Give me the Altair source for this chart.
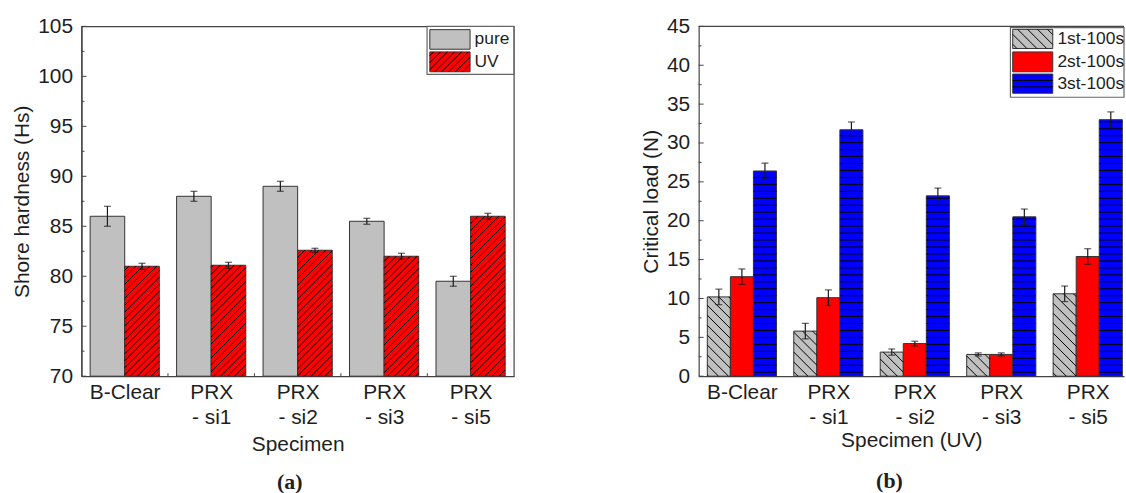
import json
import math
import pandas as pd
import altair as alt

# ---------------- data ----------------
specimens = ["B-Clear", "PRX - si1", "PRX - si2", "PRX - si3", "PRX - si5"]

hard_series = ["pure", "UV"]
hard_pure = [86.0, 88.0, 89.0, 85.5, 79.5]
hard_pure_err = [1.0, 0.5, 0.5, 0.3, 0.5]
hard_uv = [81.0, 81.1, 82.6, 82.0, 86.0]
hard_uv_err = [0.3, 0.3, 0.2, 0.3, 0.3]

load_series = ["1st-100s", "2st-100s", "3st-100s"]
load_1st = [10.2, 5.8, 3.1, 2.8, 10.6]
load_1st_err = [1.0, 1.0, 0.4, 0.2, 1.0]
load_2nd = [12.8, 10.1, 4.2, 2.8, 15.4]
load_2nd_err = [1.0, 1.0, 0.3, 0.2, 1.0]
load_3rd = [26.4, 31.7, 23.2, 20.5, 33.0]
load_3rd_err = [1.0, 1.0, 1.0, 1.0, 1.0]

# ---------------- layout / style ----------------
FONT = "Liberation Sans"
STEP = 87.0          # px per category
H = 352.0            # plot height
WA = 5 * STEP        # panel a plot width
WB = 428.0           # panel b plot width (cropped at window edge)
XMIN = -0.5
YA = (70.0, 105.0)
YB = (0.0, 45.0)
FRAME = "#444444"
TXT = "#1e1e1e"

label_lines = [[s] if " - " not in s else [s.split(" - ")[0], "- " + s.split(" - ")[1]] for s in specimens]
label_expr = json.dumps(label_lines) + "[datum.value]"


def hatch_segments(X0, X1, Y0, Y1, kind, sp, phase=0.0):
    segs = []
    if kind == "-":
        k = math.ceil((Y0 - phase) / sp)
        c = phase + k * sp
        while c < Y1 - 0.8:
            if c > Y0 + 0.8:
                segs.append((X0, c, X1, c))
            c += sp
    elif kind == "/":
        c = math.floor((X0 - Y1) / sp) * sp
        while c <= X1 - Y0:
            tmin, tmax = max(Y0, X0 - c), min(Y1, X1 - c)
            if tmax - tmin > 0.7:
                segs.append((tmin + c, tmin, tmax + c, tmax))
            c += sp
    elif kind == "\\":
        c = math.floor((X0 + Y0) / sp) * sp
        while c <= X1 + Y1:
            tmin, tmax = max(Y0, c - X1), min(Y1, c - X0)
            if tmax - tmin > 0.7:
                segs.append((c - tmin, tmin, c - tmax, tmax))
            c += sp
    return segs


def panel(series, values, errs, fills, hatches, slots, ydom, width, ytitle, xtitle, xtitle_pad,
          legend_box, legend_rows, legend_sym_x, legend_text_x, caption, cap_dx, cap_off, frame_view):
    ymin, ymax = ydom
    sy = H / (ymax - ymin)

    def to_data_x(px):
        return XMIN + px / STEP

    def to_data_y_up(py):
        return ymin + py / sy

    def to_data_y_down(py):
        return ymax - py / sy

    xscale = alt.Scale(domain=[XMIN, XMIN + width / STEP], nice=False, zero=False)
    yscale = alt.Scale(domain=[ymin, ymax], nice=False, zero=False)
    xaxis = alt.Axis(values=[0, 1, 2, 3, 4], labelExpr=label_expr, labelLineHeight=26,
                     labelPadding=5, titlePadding=xtitle_pad, labelOverlap=False,
                     labelFlush=False, labelBound=False)
    yaxis = alt.Axis(values=list(range(int(ymin), int(ymax) + 1, 5)), format="d",
                     labelPadding=9, titlePadding=5, labelFlush=False,
                     labelOverlap=False, labelBound=False)

    def X(f):
        return alt.X(f, scale=xscale, title=xtitle, axis=xaxis)

    def Y(f):
        return alt.Y(f, scale=yscale, title=ytitle, axis=yaxis)

    bars, errs_rows, hatch_rows = [], [], []
    for name, vals, ers, fill, hk, (o0, o1) in zip(series, values, errs, fills, hatches, slots):
        for i, (v, e) in enumerate(zip(vals, ers)):
            x0, x1 = i + o0, i + o1
            bars.append({"series": name, "fill": fill, "x0": x0, "x1": x1, "v": v, "base": ymin})
            errs_rows.append({"xc": (x0 + x1) / 2, "lo": v - e, "hi": v + e})
            if hk:
                kind, (sp, ph) = hk
                X0, X1 = (x0 - XMIN) * STEP, (x1 - XMIN) * STEP
                Y0, Y1 = 0.0, (v - ymin) * sy
                for (a, b, c, d) in hatch_segments(X0, X1, Y0, Y1, kind, sp, ph):
                    hatch_rows.append({"hx": to_data_x(a), "hy": to_data_y_up(b),
                                       "hx2": to_data_x(c), "hy2": to_data_y_up(d)})
    bars = pd.DataFrame(bars)
    errs_df = pd.DataFrame(errs_rows)

    fillenc = alt.Color("fill:N", scale=None, legend=None)

    bar_layer = alt.Chart(bars).mark_rect(stroke="#333333", strokeWidth=1).encode(
        x=X("x0:Q"), x2="x1:Q", y=Y("v:Q"), y2="base:Q", color=fillenc)

    # legend (drawn inside the plot, Origin style)
    lb_x0, lb_y0, lb_x1, lb_y1 = legend_box
    box_df = pd.DataFrame([{"x": to_data_x(lb_x0), "x2": to_data_x(lb_x1),
                            "y": to_data_y_down(lb_y0), "y2": to_data_y_down(lb_y1)}])
    sym_rows, txt_rows, leg_hatch = [], [], []
    for name, fill, (r0, r1), hk in zip(series, fills, legend_rows, hatches):
        sym_rows.append({"fill": fill, "x": to_data_x(legend_sym_x[0]), "x2": to_data_x(legend_sym_x[1]),
                         "y": to_data_y_down(r0), "y2": to_data_y_down(r1)})
        txt_rows.append({"label": name, "x": to_data_x(legend_text_x), "y": to_data_y_down((r0 + r1) / 2)})
        if hk:
            kind, (sp, ph) = hk
            X0, X1 = legend_sym_x
            Y0, Y1 = H - r1, H - r0
            if kind == "-":
                sp = (Y1 - Y0) / 3
                ph = Y0
            for (a, b, c, d) in hatch_segments(X0, X1, Y0, Y1, kind, sp, ph):
                leg_hatch.append({"hx": to_data_x(a), "hy": to_data_y_up(b),
                                  "hx2": to_data_x(c), "hy2": to_data_y_up(d)})

    def hatch_chart(rows):
        return alt.Chart(pd.DataFrame(rows)).mark_rule(color="#000000", strokeWidth=1).encode(
            x=X("hx:Q"), x2="hx2:Q", y=Y("hy:Q"), y2="hy2:Q")

    err_rule = alt.Chart(errs_df).mark_rule(color="#1a1a1a", strokeWidth=1.2).encode(
        x=X("xc:Q"), y=Y("lo:Q"), y2="hi:Q")
    err_lo = alt.Chart(errs_df).mark_tick(color="#1a1a1a", orient="horizontal", size=7, thickness=1.2).encode(
        x=X("xc:Q"), y=Y("lo:Q"))
    err_hi = alt.Chart(errs_df).mark_tick(color="#1a1a1a", orient="horizontal", size=7, thickness=1.2).encode(
        x=X("xc:Q"), y=Y("hi:Q"))

    box_layer = alt.Chart(box_df).mark_rect(fill="#ffffff", stroke="#666666", strokeWidth=1.2).encode(
        x=X("x:Q"), x2="x2:Q", y=Y("y:Q"), y2="y2:Q")
    sym_layer = alt.Chart(pd.DataFrame(sym_rows)).mark_rect(stroke="#333333", strokeWidth=1).encode(
        x=X("x:Q"), x2="x2:Q", y=Y("y:Q"), y2="y2:Q", color=fillenc)
    txt_layer = alt.Chart(pd.DataFrame(txt_rows)).mark_text(
        align="left", baseline="middle", font=FONT, fontSize=17.5, color=TXT).encode(
        x=X("x:Q"), y=Y("y:Q"), text="label:N")

    # inward y ticks
    majors = list(range(int(ymin), int(ymax) + 1, 5))
    minors = [m + 2.5 for m in majors[:-1]]
    tick_major = alt.Chart(pd.DataFrame({"t": majors})).mark_rule(color=FRAME, strokeWidth=1).encode(
        y=Y("t:Q"), x=alt.value(0), x2=alt.value(5))
    tick_minor = alt.Chart(pd.DataFrame({"t": minors})).mark_rule(color=FRAME, strokeWidth=1).encode(
        y=Y("t:Q"), x=alt.value(0), x2=alt.value(3))

    layers = [bar_layer, hatch_chart(hatch_rows), err_rule, err_lo, err_hi, tick_major, tick_minor]
    if frame_view:
        bticks = pd.DataFrame({"b": [0.5, 1.5, 2.5, 3.5]})
        layers.append(alt.Chart(bticks).mark_rule(color=FRAME, strokeWidth=1).encode(
            x=X("b:Q"), y=alt.value(H), y2=alt.value(H - 3)))
    else:
        layers.append(alt.Chart(pd.DataFrame({"k": [0]})).mark_rule(color=FRAME, strokeWidth=1.2).encode(
            x=alt.value(0), x2=alt.value(width), y=alt.value(0)))
    layers += [box_layer, sym_layer, hatch_chart(leg_hatch), txt_layer]

    ch = alt.layer(*layers).properties(
        width=width, height=H,
        title=alt.TitleParams(caption, orient="bottom", font="Liberation Serif", fontSize=22,
                              fontWeight="bold", color=TXT, dx=cap_dx, offset=cap_off),
    )
    if not frame_view:
        ch = ch.properties(view=alt.ViewBackground(stroke="transparent"))
    return ch


panel_a = panel(
    hard_series, [hard_pure, hard_uv], [hard_pure_err, hard_uv_err],
    ["#c0c0c0", "#ff0000"], [None, ("/", (7.0, 0.0))],
    [(-0.4, 0.0), (0.0, 0.4)], YA, WA, "Shore hardness (Hs)", "Specimen", 6,
    (347.7, 0.0, WA, 48.3), [(3.3, 23.0), (25.7, 45.7)], (350.5, 391.0), 395.5, "(a)", -8, 17, True)

panel_b = panel(
    load_series, [load_1st, load_2nd, load_3rd], [load_1st_err, load_2nd_err, load_3rd_err],
    ["#c0c0c0", "#ff0000", "#0000ff"], [("\\", (10.0, 0.0)), None, ("-", (7.0, 4.0))],
    [(-0.4, -0.1333), (-0.1333, 0.1333), (0.1333, 0.4)], YB, WB, "Critical load (N)", "Specimen (UV)", 2,
    (313.7, 1.3, WB, 71.3), [(3.0, 22.3), (25.7, 45.7), (48.0, 67.3)], (316.0, 356.3), 361.0, "(b)", -22, 20,
    False)

chart = alt.hconcat(panel_a, panel_b, spacing=125).properties(
    padding={"left": 11, "top": 13, "right": 0, "bottom": 0}
).configure_axis(
    labelFont=FONT, titleFont=FONT, labelFontSize=21, titleFontSize=21, titleFontWeight="normal",
    labelColor=TXT, titleColor=TXT, grid=False, ticks=False, domainColor=FRAME, domainWidth=1.2,
).configure_view(stroke=FRAME, strokeWidth=1.2)

chart.save("out.html", embed_options={"renderer": "svg", "actions": False})
